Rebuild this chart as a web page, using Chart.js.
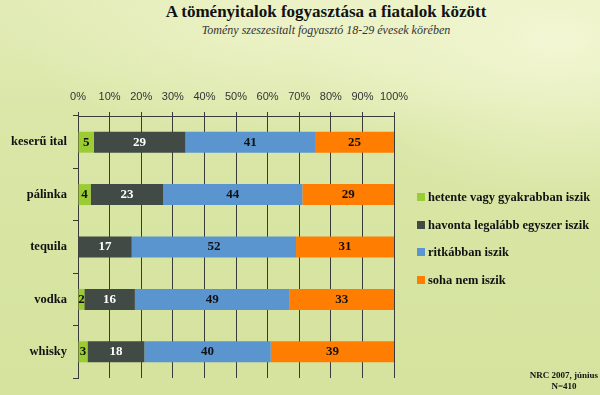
<!DOCTYPE html>
<html lang="hu">
<head>
<meta charset="utf-8">
<title>A töményitalok fogyasztása a fiatalok között</title>
<script src="https://cdn.jsdelivr.net/npm/chart.js@4/dist/chart.umd.min.js"></script>
<style>
    html, body {
        margin: 0;
        padding: 0;
    }
    body {
        width: 600px;
        height: 395px;
        position: relative;
        overflow: hidden;
        background:
            radial-gradient(ellipse 260px 160px at 560px 40px, rgba(245, 248, 215, 0.9), rgba(245, 248, 215, 0) 100%),
            radial-gradient(ellipse 300px 120px at 300px 20px, rgba(240, 245, 205, 0.8), rgba(240, 245, 205, 0) 100%),
            linear-gradient(180deg, #e2ebb6 0%, #d9e6a6 35%, #d5e39e 100%);
        font-family: "Liberation Serif", "DejaVu Serif", serif;
    }
    #chart {
        position: absolute;
        left: 0;
        top: 0;
    }
    .cim {
        position: absolute;
        left: 126px;
        width: 400px;
        text-align: center;
        color: #111;
        white-space: nowrap;
    }
    #cim1 {
        top: 2px;
        font-size: 17px;
        font-weight: bold;
    }
    #cim2 {
        top: 23px;
        font-size: 12px;
        font-style: italic;
        color: #333;
    }
    #jelmagyarazat {
        position: absolute;
        left: 417px;
        top: 189px;
    }
    .tetel {
        height: 27.5px;
        line-height: 16px;
        font-size: 12.5px;
        font-weight: bold;
        color: #111;
        white-space: nowrap;
    }
    .negyzet {
        display: inline-block;
        width: 8px;
        height: 8px;
        margin-right: 3px;
        vertical-align: 0px;
    }
    #forras {
        position: absolute;
        left: 520px;
        width: 88px;
        top: 370px;
        text-align: center;
        font-size: 9px;
        font-weight: bold;
        line-height: 11px;
        color: #111;
    }
</style>
</head>
<body>
<div id="cim1" class="cim">A töményitalok fogyasztása a fiatalok között</div>
<div id="cim2" class="cim">Tomény szeszesitalt fogyasztó 18-29 évesek körében</div>
<canvas id="chart" width="600" height="395"></canvas>
<div id="jelmagyarazat"></div>
<div id="forras">NRC 2007, június<br>N=410</div>

<script>
const italok = ['keserű ital', 'pálinka', 'tequila', 'vodka', 'whisky'];
const xTickek = [0, 10, 20, 30, 40, 50, 60, 70, 80, 90, 100];

const sorozatNevek = [
    'hetente vagy gyakrabban iszik',
    'havonta legalább egyszer iszik',
    'ritkábban iszik',
    'soha nem iszik'
];
const hetente = [5, 4, null, 2, 3];
const havonta = [29, 23, 17, 16, 18];
const ritkabban = [41, 44, 52, 49, 40];
const soha = [25, 29, 31, 33, 39];

const szinek = ['#9ccc34', '#414a44', '#5a95d0', '#ff7d00'];
const cimkeSzinek = ['#111', '#ffffff', '#111', '#111'];

const vonalSzin = '#3a3a3a';

// szamok a savok kozepen
const ertekCimkek = {
    id: 'ertekCimkek',
    afterDatasetsDraw(chart) {
        const ctx = chart.ctx;
        ctx.save();
        ctx.font = 'bold 13px "Liberation Serif", serif';
        ctx.textAlign = 'center';
        ctx.textBaseline = 'middle';
        chart.data.datasets.forEach((ds, i) => {
            const meta = chart.getDatasetMeta(i);
            meta.data.forEach((bar, j) => {
                const ertek = ds.data[j];
                if (ertek === null || ertek === 0) return;
                const x = (bar.x + bar.base) / 2;
                ctx.fillStyle = cimkeSzinek[i];
                ctx.fillText(String(ertek), x, bar.y);
            });
        });
        ctx.restore();
    }
};

const adatsorok = [hetente, havonta, ritkabban, soha].map((adat, i) => ({
    label: sorozatNevek[i],
    data: adat,
    backgroundColor: szinek[i],
    borderWidth: 0,
    barPercentage: 0.4,
    categoryPercentage: 1
}));

new Chart(document.getElementById('chart'), {
    type: 'bar',
    data: {
        labels: italok,
        datasets: adatsorok
    },
    options: {
        indexAxis: 'y',
        responsive: false,
        animation: false,
        layout: {
            padding: { left: 0, top: 0, right: 206, bottom: 17 }
        },
        scales: {
            x: {
                position: 'top',
                stacked: true,
                min: 0,
                max: 100,
                afterFit(scale) {
                    scale.height = 116;
                },
                afterBuildTicks(scale) {
                    scale.ticks = xTickek.map(v => ({ value: v }));
                },
                ticks: {
                    callback: v => v + '%',
                    color: '#333',
                    padding: 8,
                    maxRotation: 0,
                    font: { family: '"Liberation Sans", sans-serif', size: 11 }
                },
                grid: {
                    color: vonalSzin,
                    lineWidth: 1,
                    tickLength: 4,
                    drawOnChartArea: true
                },
                border: { display: true, color: vonalSzin, width: 1 }
            },
            y: {
                stacked: true,
                afterFit(scale) {
                    scale.width = 78;
                },
                ticks: {
                    color: '#111',
                    padding: 6,
                    font: { family: '"Liberation Serif", serif', size: 12.5, weight: 'bold' }
                },
                grid: {
                    offset: true,
                    tickLength: 5,
                    tickColor: vonalSzin,
                    color: ctx => (ctx.index === italok.length ? vonalSzin : 'rgba(0,0,0,0)'),
                    drawOnChartArea: true
                },
                border: { display: true, color: vonalSzin, width: 1 }
            }
        },
        plugins: {
            legend: { display: false },
            tooltip: { enabled: false }
        }
    },
    plugins: [ertekCimkek]
});

// jelmagyarazat a sorozatokbol
const jm = document.getElementById('jelmagyarazat');
sorozatNevek.forEach((nev, i) => {
    const sor = document.createElement('div');
    sor.className = 'tetel';
    const n = document.createElement('span');
    n.className = 'negyzet';
    n.style.background = szinek[i];
    sor.appendChild(n);
    sor.appendChild(document.createTextNode(nev));
    jm.appendChild(sor);
});
</script>
</body>
</html>
